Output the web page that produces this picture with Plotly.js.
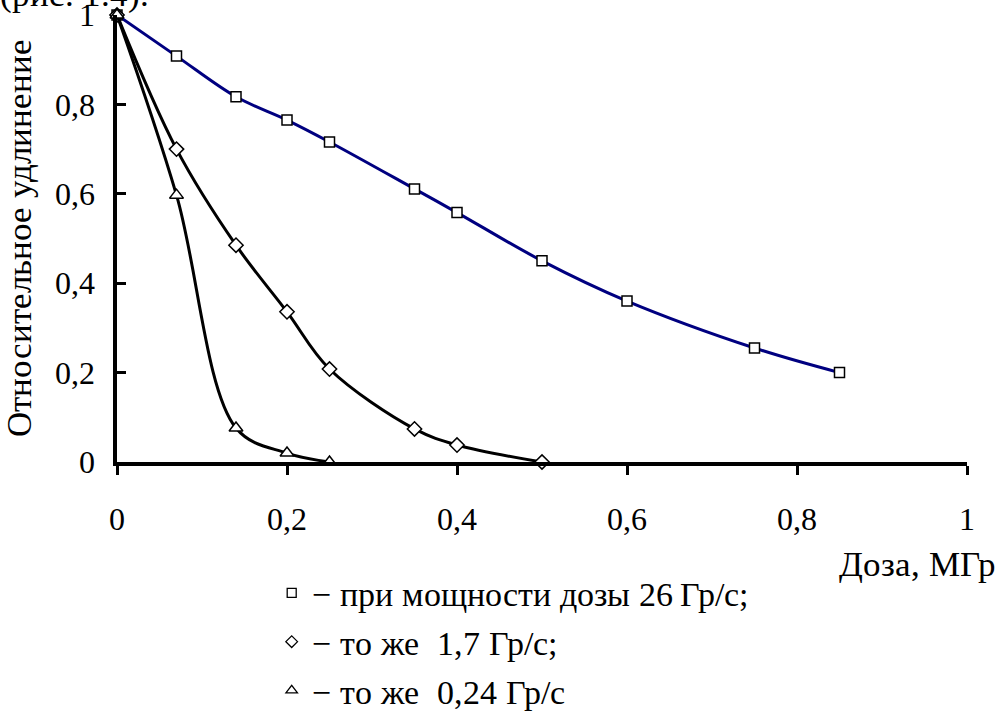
<!DOCTYPE html>
<html>
<head>
<meta charset="utf-8">
<script src="https://cdn.plot.ly/plotly-3.0.1.min.js"></script>
<style>
@font-face{font-family:'RefSerif';src:local('Liberation Serif'),local('LiberationSerif'),local('LiberationSerif-Regular'),local('Times New Roman'),local('DejaVu Serif');}
body{margin:0;padding:0;background:#fff;}
#figref{position:absolute;left:0;top:-23px;z-index:10;font-family:'RefSerif','Liberation Serif','Times New Roman',serif;font-size:35px;line-height:35px;color:#000;white-space:nowrap;}
#chart{position:relative;}
</style>
</head>
<body>
<div id="figref">(рис. 1.4).</div>
<div id="chart"></div>
<script>
// Data (dose in MGy, relative elongation)
const dose26 = [0, 0.07, 0.14, 0.2, 0.25, 0.35, 0.4, 0.5, 0.6, 0.75, 0.85];
const elong26 = [1, 0.908, 0.817, 0.765, 0.716, 0.611, 0.558, 0.45, 0.36, 0.255, 0.2];
const dose17 = [0, 0.07, 0.14, 0.2, 0.25, 0.35, 0.4, 0.5];
const elong17 = [1, 0.70, 0.485, 0.336, 0.208, 0.074, 0.038, 0];
const dose024 = [0, 0.07, 0.14, 0.2, 0.25];
const elong024 = [1, 0.597, 0.076, 0.02, 0];
const legendNames = ["− при мощности дозы 26\u2009Гр/с;", "− то же  1,7 Гр/с;", "− то же  0,24 Гр/с"];
const xTickVals = [0, 0.2, 0.4, 0.6, 0.8, 1];
const xTickText = ["0", "0,2", "0,4", "0,6", "0,8", "1"];
const yTickVals = [0, 0.2, 0.4, 0.6, 0.8, 1];
const yTickText = ["0", "0,2", "0,4", "0,6", "0,8", "1"];

const serifFamily = "RefSerif, Liberation Serif, Times New Roman, serif";
function f(size) { return {family: serifFamily, size: size, color: "#000"}; }

const traces = [
  {x: dose26, y: elong26, mode: "lines+markers", line: {color: "#000080", width: 3, shape: "spline", smoothing: 1},
   marker: {symbol: "square", size: 10, color: "#fff", line: {color: "#000", width: 1.5}}, showlegend: false, cliponaxis: false},
  {x: dose17, y: elong17, mode: "lines+markers", line: {color: "#000", width: 3, shape: "spline", smoothing: 1},
   marker: {symbol: "diamond", size: 11, color: "#fff", line: {color: "#000", width: 1.5}}, showlegend: false, cliponaxis: false},
  {x: dose024, y: elong024, mode: "lines+markers", line: {color: "#000", width: 3, shape: "spline", smoothing: 1},
   marker: {symbol: "triangle-up", size: 12, color: "#fff", line: {color: "#000", width: 1.5}}, showlegend: false, cliponaxis: false},
  {x: [null], y: [null], mode: "markers", name: legendNames[0], legendgroup: "a",
   marker: {symbol: "square", size: 9, color: "#fff", line: {color: "#000", width: 1.3}}},
  {x: [null], y: [null], mode: "markers", name: legendNames[1], legendgroup: "b",
   marker: {symbol: "diamond", size: 9, color: "#fff", line: {color: "#000", width: 1.3}}},
  {x: [null], y: [null], mode: "markers", name: legendNames[2], legendgroup: "c",
   marker: {symbol: "triangle-up", size: 10, color: "#fff", line: {color: "#000", width: 1.3}}}
];

const layout = {
  width: 999, height: 713,
  margin: {l: 117, r: 32, t: 15, b: 251, autoexpand: false},
  paper_bgcolor: "#fff", plot_bgcolor: "#fff",
  font: f(32),
  showlegend: true,
  legend: {x: 0.182, y: -0.229, xanchor: "left", yanchor: "top", font: f(34),
           bgcolor: "rgba(0,0,0,0)", tracegroupgap: 1.5, itemwidth: 30},
  xaxis: {range: [0, 1], tickvals: xTickVals, ticktext: xTickText, showgrid: false, zeroline: false,
          showline: true, linecolor: "#000", linewidth: 4, ticks: "outside", ticklen: 9, tickwidth: 3, tickcolor: "#000",
          ticklabelstandoff: 17, ticklabeloverflow: "allow", tickfont: f(32)},
  yaxis: {range: [0, 1], tickvals: yTickVals, ticktext: yTickText, showgrid: false, zeroline: false,
          showline: true, linecolor: "#000", linewidth: 4, ticks: "inside", ticklen: 9, tickwidth: 3, tickcolor: "#000",
          ticklabelstandoff: 12, ticklabeloverflow: "allow", tickfont: f(32), automargin: false,
          title: {text: "Относительное удлинение", font: f(35), standoff: 14}},
  annotations: [
    {text: "Доза, МГр", xref: "paper", yref: "paper", x: 1.0365, y: -0.2304, xanchor: "right", yanchor: "middle",
     showarrow: false, font: f(35)}
  ]
};

const config = {staticPlot: true};
Plotly.newPlot("chart", traces, layout, config);
function redraw() { Plotly.react("chart", traces, layout, config); }
if (document.fonts && document.fonts.load) {
  document.fonts.load("35px RefSerif", "Доза 0,8").then(redraw, redraw);
  document.fonts.ready.then(redraw);
}
</script>
</body>
</html>
